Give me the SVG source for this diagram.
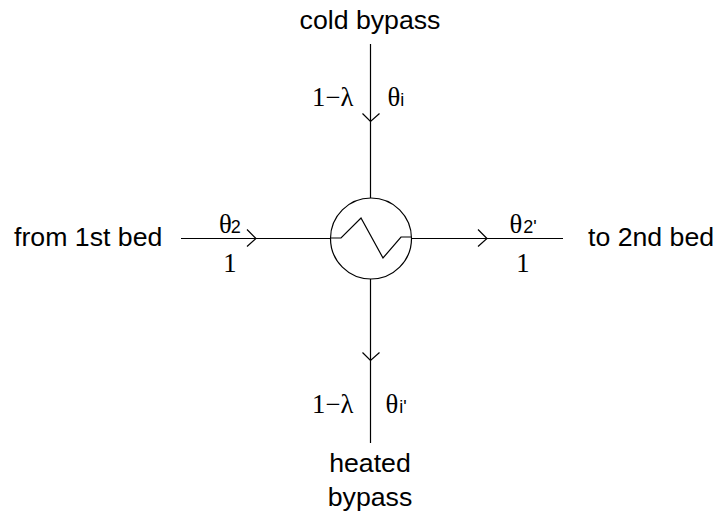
<svg xmlns="http://www.w3.org/2000/svg" width="717" height="512" viewBox="0 0 717 512">
<defs>
<style>
.l{stroke:#000;stroke-width:1.2;fill:none}
.s{font-family:"Liberation Sans",Arial,sans-serif;font-size:26.7px;fill:#000}
.t{font-family:"Liberation Serif","Times New Roman",serif;font-size:26.7px;fill:#000}
.u{font-family:"Liberation Sans",Arial,sans-serif;font-size:18px;fill:#000}
.e{text-anchor:middle}
</style>
</defs>
<rect width="717" height="512" fill="#fff"/>
<g id="connectors">
<path class="l" d="M370.500 44V198M370.500 279V443M181 238.500H331M411 238.500H563"/>
<path class="l" d="M362.500 113.500L370.500 121.500L379.500 113.500M362.500 352.500L370.500 360.500L379.500 352.500M247 229.500L256 238.500L247 246.500M478 229.500L487 238.500L478 246.500"/>
</g>
<g id="exchanger">
<circle class="l" cx="371" cy="238.500" r="40.500"/>
<path class="l" d="M331 238H341L361 218L383 258L401 237H411"/>
</g>
<g id="label-cold"><text class="s e" x="370" y="29">cold bypass</text></g>
<g id="label-top-left"><text class="t" x="312" y="106">1−λ</text></g>
<g id="label-top-right"><text class="t" x="387.500" y="106">θ<tspan class="u">i</tspan></text></g>
<g id="label-from"><text class="s" x="14" y="245.500">from 1st bed</text></g>
<g id="label-theta2"><text class="t" x="219" y="233">θ<tspan class="u" dx="-1">2</tspan></text></g>
<g id="label-one-left"><text class="t e" x="230" y="272">1</text></g>
<g id="label-theta2p"><text class="t" x="509.500" y="233">θ<tspan class="u" dx="1">2'</tspan></text></g>
<g id="label-one-right"><text class="t e" x="523" y="272">1</text></g>
<g id="label-to"><text class="s" x="588" y="245.500">to 2nd bed</text></g>
<g id="label-bottom-left"><text class="t" x="312" y="413">1−λ</text></g>
<g id="label-bottom-right"><text class="t" x="385.500" y="413">θ<tspan class="u" dx="1">i'</tspan></text></g>
<g id="label-heated"><text class="s e" x="370" y="472">heated</text><text class="s e" x="370" y="505.500">bypass</text></g>
</svg>
